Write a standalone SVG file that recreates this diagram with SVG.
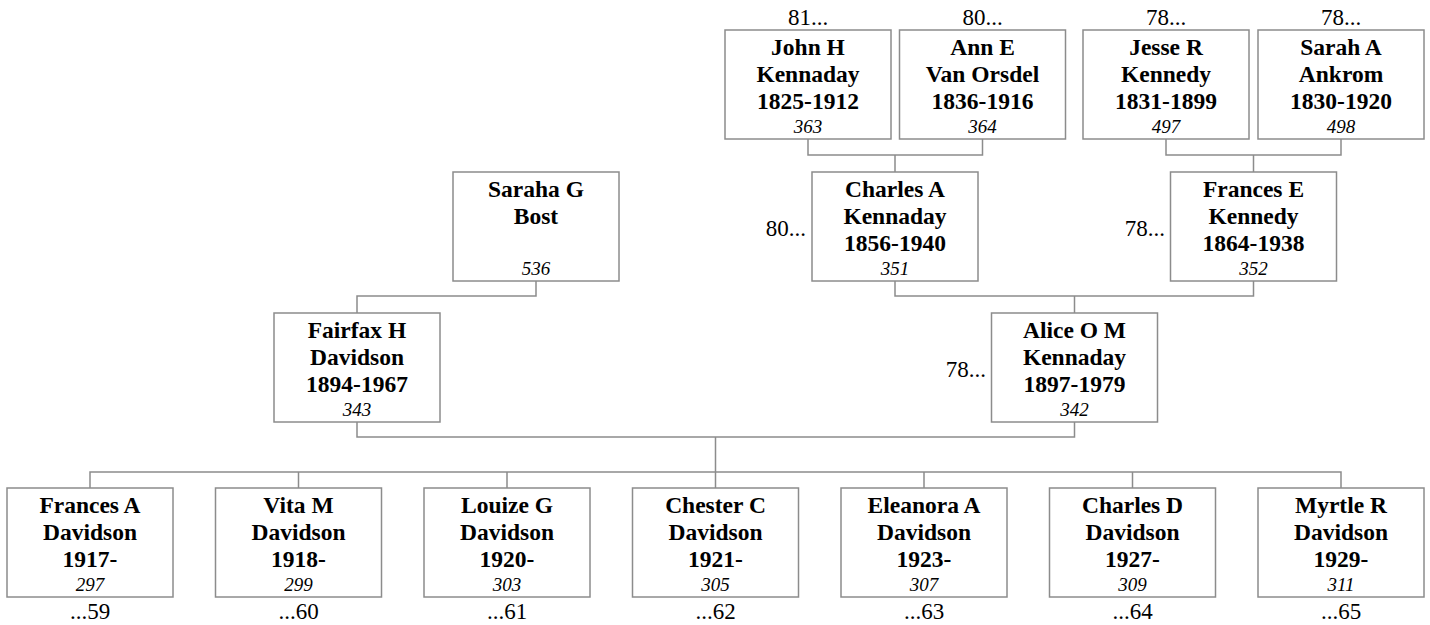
<svg xmlns="http://www.w3.org/2000/svg" width="1430" height="625" viewBox="0 0 1430 625">
<style>
.box{fill:#fff;stroke:#8c8c8c;stroke-width:1.5}
text{font-family:'Liberation Serif','DejaVu Serif',serif;fill:#000}
.nm{font-weight:bold;font-size:23.5px;text-anchor:middle}
.id{font-style:italic;font-size:19px;text-anchor:middle}
.lb{font-size:23px}
.c{fill:none;stroke:#8c8c8c;stroke-width:1.5}
</style>
<rect width="1430" height="625" fill="#fff"/>
<g id="connectors">
<path class="c" d="M808,139V155H982.5V139M895,155V172"/>
<path class="c" d="M1166,139V155H1341V139M1253.5,155V172"/>
<path class="c" d="M895,281V296H1253.5V281M1074.5,296V313"/>
<path class="c" d="M536,281V296H357V313"/>
<path class="c" d="M357,422V437H1074.5V422M715.5,437V472"/>
<path class="c" d="M90,488V472H1341V488M298.5,472V488M507,472V488M715.5,472V488M924,472V488M1132.5,472V488"/>
</g>
<g id="n363">
<rect class="box" x="725" y="30" width="166" height="109"/>
<text class="lb" x="808" y="25" text-anchor="middle">81...</text>
<text class="nm" x="808" y="55">John H</text>
<text class="nm" x="808" y="82">Kennaday</text>
<text class="nm" x="808" y="109">1825-1912</text>
<text class="id" x="808" y="133">363</text>
</g>
<g id="n364">
<rect class="box" x="899.5" y="30" width="166" height="109"/>
<text class="lb" x="982.5" y="25" text-anchor="middle">80...</text>
<text class="nm" x="982.5" y="55">Ann E</text>
<text class="nm" x="982.5" y="82">Van Orsdel</text>
<text class="nm" x="982.5" y="109">1836-1916</text>
<text class="id" x="982.5" y="133">364</text>
</g>
<g id="n497">
<rect class="box" x="1083" y="30" width="166" height="109"/>
<text class="lb" x="1166" y="25" text-anchor="middle">78...</text>
<text class="nm" x="1166" y="55">Jesse R</text>
<text class="nm" x="1166" y="82">Kennedy</text>
<text class="nm" x="1166" y="109">1831-1899</text>
<text class="id" x="1166" y="133">497</text>
</g>
<g id="n498">
<rect class="box" x="1258" y="30" width="166" height="109"/>
<text class="lb" x="1341" y="25" text-anchor="middle">78...</text>
<text class="nm" x="1341" y="55">Sarah A</text>
<text class="nm" x="1341" y="82">Ankrom</text>
<text class="nm" x="1341" y="109">1830-1920</text>
<text class="id" x="1341" y="133">498</text>
</g>
<g id="n536">
<rect class="box" x="453" y="172" width="166" height="109"/>
<text class="nm" x="536" y="197">Saraha G</text>
<text class="nm" x="536" y="224">Bost</text>
<text class="id" x="536" y="275">536</text>
</g>
<g id="n351">
<rect class="box" x="812" y="172" width="166" height="109"/>
<text class="lb" x="806" y="236" text-anchor="end">80...</text>
<text class="nm" x="895" y="197">Charles A</text>
<text class="nm" x="895" y="224">Kennaday</text>
<text class="nm" x="895" y="251">1856-1940</text>
<text class="id" x="895" y="275">351</text>
</g>
<g id="n352">
<rect class="box" x="1170.5" y="172" width="166" height="109"/>
<text class="lb" x="1165" y="236" text-anchor="end">78...</text>
<text class="nm" x="1253.5" y="197">Frances E</text>
<text class="nm" x="1253.5" y="224">Kennedy</text>
<text class="nm" x="1253.5" y="251">1864-1938</text>
<text class="id" x="1253.5" y="275">352</text>
</g>
<g id="n343">
<rect class="box" x="274" y="313" width="166" height="109"/>
<text class="nm" x="357" y="338">Fairfax H</text>
<text class="nm" x="357" y="365">Davidson</text>
<text class="nm" x="357" y="392">1894-1967</text>
<text class="id" x="357" y="416">343</text>
</g>
<g id="n342">
<rect class="box" x="991.5" y="313" width="166" height="109"/>
<text class="lb" x="986" y="377" text-anchor="end">78...</text>
<text class="nm" x="1074.5" y="338">Alice O M</text>
<text class="nm" x="1074.5" y="365">Kennaday</text>
<text class="nm" x="1074.5" y="392">1897-1979</text>
<text class="id" x="1074.5" y="416">342</text>
</g>
<g id="n297">
<rect class="box" x="7" y="488" width="166" height="109"/>
<text class="nm" x="90" y="513">Frances A</text>
<text class="nm" x="90" y="540">Davidson</text>
<text class="nm" x="90" y="567">1917-</text>
<text class="id" x="90" y="591">297</text>
<text class="lb" x="90" y="619" text-anchor="middle">...59</text>
</g>
<g id="n299">
<rect class="box" x="215.5" y="488" width="166" height="109"/>
<text class="nm" x="298.5" y="513">Vita M</text>
<text class="nm" x="298.5" y="540">Davidson</text>
<text class="nm" x="298.5" y="567">1918-</text>
<text class="id" x="298.5" y="591">299</text>
<text class="lb" x="298.5" y="619" text-anchor="middle">...60</text>
</g>
<g id="n303">
<rect class="box" x="424" y="488" width="166" height="109"/>
<text class="nm" x="507" y="513">Louize G</text>
<text class="nm" x="507" y="540">Davidson</text>
<text class="nm" x="507" y="567">1920-</text>
<text class="id" x="507" y="591">303</text>
<text class="lb" x="507" y="619" text-anchor="middle">...61</text>
</g>
<g id="n305">
<rect class="box" x="632.5" y="488" width="166" height="109"/>
<text class="nm" x="715.5" y="513">Chester C</text>
<text class="nm" x="715.5" y="540">Davidson</text>
<text class="nm" x="715.5" y="567">1921-</text>
<text class="id" x="715.5" y="591">305</text>
<text class="lb" x="715.5" y="619" text-anchor="middle">...62</text>
</g>
<g id="n307">
<rect class="box" x="841" y="488" width="166" height="109"/>
<text class="nm" x="924" y="513">Eleanora A</text>
<text class="nm" x="924" y="540">Davidson</text>
<text class="nm" x="924" y="567">1923-</text>
<text class="id" x="924" y="591">307</text>
<text class="lb" x="924" y="619" text-anchor="middle">...63</text>
</g>
<g id="n309">
<rect class="box" x="1049.5" y="488" width="166" height="109"/>
<text class="nm" x="1132.5" y="513">Charles D</text>
<text class="nm" x="1132.5" y="540">Davidson</text>
<text class="nm" x="1132.5" y="567">1927-</text>
<text class="id" x="1132.5" y="591">309</text>
<text class="lb" x="1132.5" y="619" text-anchor="middle">...64</text>
</g>
<g id="n311">
<rect class="box" x="1258" y="488" width="166" height="109"/>
<text class="nm" x="1341" y="513">Myrtle R</text>
<text class="nm" x="1341" y="540">Davidson</text>
<text class="nm" x="1341" y="567">1929-</text>
<text class="id" x="1341" y="591">311</text>
<text class="lb" x="1341" y="619" text-anchor="middle">...65</text>
</g>
</svg>
